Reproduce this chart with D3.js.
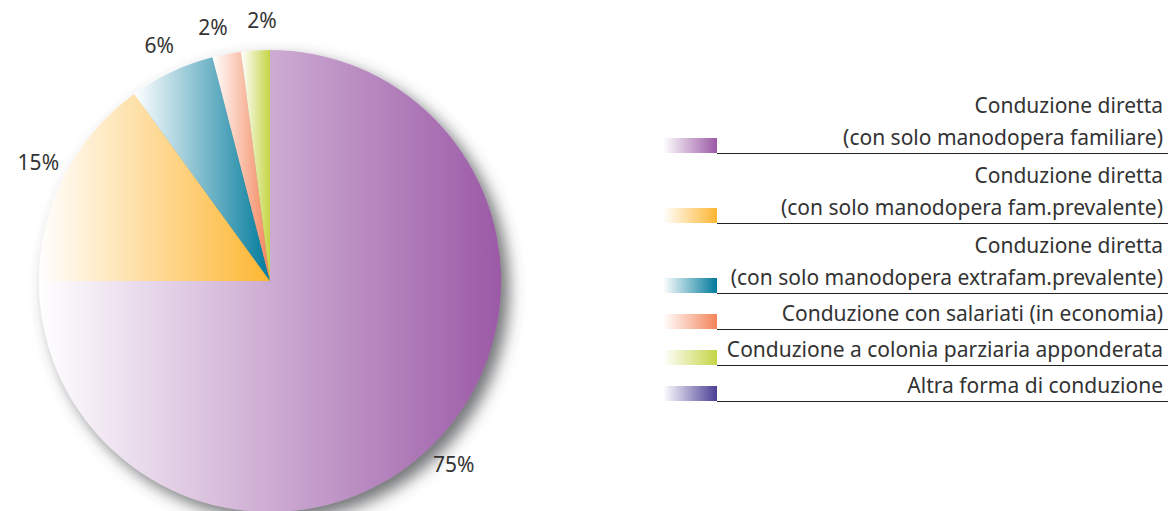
<!DOCTYPE html>
<html>
<head>
<meta charset="utf-8">
<script src="https://cdn.jsdelivr.net/npm/d3@7"></script>
<style>
  body { margin: 0; background: #fff; }
  svg { display: block; font-family: "Noto Sans", sans-serif; }
</style>
</head>
<body>
<svg id="chart" width="1168" height="511"></svg>
<script>
// categories, values (%) and colours
const categories = [
  ["Conduzione diretta", "(con solo manodopera familiare)"],
  ["Conduzione diretta", "(con solo manodopera fam.prevalente)"],
  ["Conduzione diretta", "(con solo manodopera extrafam.prevalente)"],
  ["Conduzione con salariati (in economia)"],
  ["Conduzione a colonia parziaria apponderata"],
  ["Altra forma di conduzione"],
];
const values = [75, 15, 6, 2, 2, 0];
const colors = ["#9b59a6", "#fdb631", "#007a9b", "#f4845a", "#c5d545", "#4a3f95"];

const svg = d3.select("#chart");
const cx = 270, cy = 281, radius = 231;
const fontSize = 21;

const data = values.map((v, i) => ({ i, value: v, lines: categories[i], color: colors[i] }));

const defs = svg.append("defs");
// white -> colour horizontal gradients (one per category)
data.forEach((d) => {
  const g = defs.append("linearGradient")
    .attr("id", "grad" + d.i)
    .attr("x1", 0).attr("x2", 1).attr("y1", 0).attr("y2", 0);
  g.append("stop").attr("offset", "0%").attr("stop-color", "#fff");
  g.append("stop").attr("offset", "100%").attr("stop-color", d.color);
});

const shadow = defs.append("filter").attr("id", "shadow")
  .attr("x", "-20%").attr("y", "-20%").attr("width", "140%").attr("height", "140%");
shadow.append("feDropShadow")
  .attr("dx", 8).attr("dy", 8).attr("stdDeviation", 8)
  .attr("flood-color", "#44474c").attr("flood-opacity", 0.75);

const pie = d3.pie().sort(null).value((d) => d.value);
const arc = d3.arc().innerRadius(0).outerRadius(radius);

const arcs = pie(data);
const shown = arcs.filter((a) => a.data.value > 0);

// label angles: slice middle, then pushed apart when too close
const labelR = 260, minSep = 0.19;
const labels = shown.map((a) => ({ a, angle: (a.startAngle + a.endAngle) / 2 }));
for (let it = 0; it < 20; it++) {
  for (let k = 1; k < labels.length; k++) {
    const gap = labels[k].angle - labels[k - 1].angle;
    if (gap < minSep) {
      const push = (minSep - gap) / 2;
      labels[k - 1].angle -= push;
      labels[k].angle += push;
    }
  }
}

const pieG = svg.append("g").attr("transform", `translate(${cx},${cy})`);

pieG.append("g")
  .attr("filter", "url(#shadow)")
  .selectAll("path")
  .data(shown)
  .join("path")
  .attr("d", arc)
  .attr("fill", (a) => `url(#grad${a.data.i})`);

pieG.selectAll("text.pct")
  .data(labels)
  .join("text")
  .attr("class", "pct")
  .attr("x", (l) => labelR * Math.sin(l.angle))
  .attr("y", (l) => -labelR * Math.cos(l.angle))
  .attr("text-anchor", "middle")
  .attr("dy", "0.35em")
  .attr("font-size", fontSize)
  .attr("fill", "#333")
  .text((l) => l.a.data.value + "%");

// legend
const legendX = 663, swatchW = 54, swatchH = 15, lineEnd = 1168, textRight = 1163;
const legend = svg.append("g");
let lineY = 153;
data.forEach((d, k) => {
  if (k > 0) lineY += 36 + 34 * (d.lines.length - 1);
  const item = legend.append("g");
  item.append("rect")
    .attr("x", legendX).attr("y", lineY - swatchH)
    .attr("width", swatchW).attr("height", swatchH)
    .attr("fill", `url(#grad${d.i})`);
  item.append("line")
    .attr("x1", legendX + swatchW).attr("x2", lineEnd)
    .attr("y1", lineY + 0.5).attr("y2", lineY + 0.5)
    .attr("stroke", "#222").attr("stroke-width", 1);
  d.lines.forEach((t, j) => {
    item.append("text")
      .attr("x", textRight)
      .attr("y", lineY - 8 - 32 * (d.lines.length - 1 - j))
      .attr("text-anchor", "end")
      .attr("font-size", fontSize)
      .attr("fill", "#333")
      .text(t);
  });
});
</script>
</body>
</html>
